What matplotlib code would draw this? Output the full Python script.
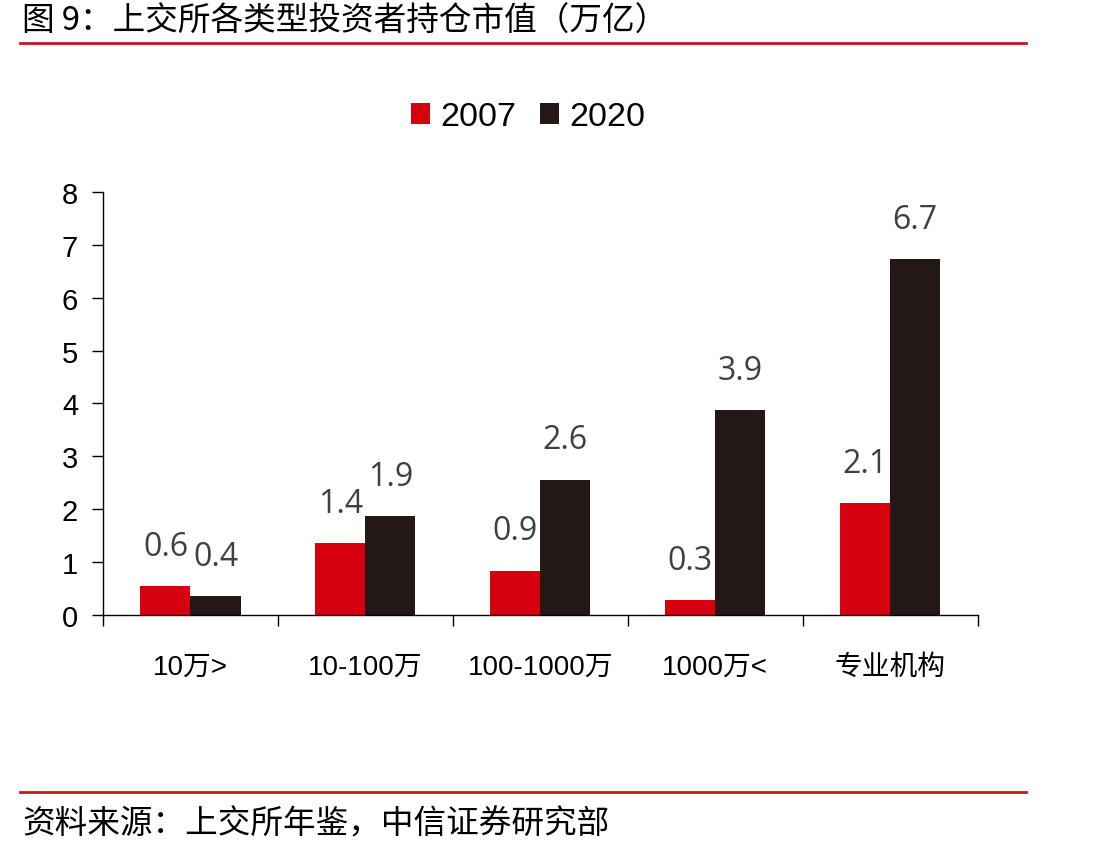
import matplotlib
matplotlib.use('Agg')
import matplotlib.pyplot as plt
import numpy as np

plt.rcParams['font.family'] = ['Liberation Sans', 'Noto Sans CJK SC', 'DejaVu Sans']

# data
categories = ['10万>', '10-100万', '100-1000万', '1000万<', '专业机构']
years = ['2007', '2020']
vals_2007 = [0.55, 1.36, 0.84, 0.28, 2.12]
vals_2020 = [0.35, 1.87, 2.56, 3.88, 6.73]
labels_2007 = ['0.6', '1.4', '0.9', '0.3', '2.1']
labels_2020 = ['0.4', '1.9', '2.6', '3.9', '6.7']

red = '#D7000F'
dark = '#231815'
line_red = '#C8161D'

fig = plt.figure(figsize=(10.96, 8.54), dpi=100)
ax = fig.add_axes([0.094, 0.2787, 0.798, 0.4953])

x = np.arange(len(categories))
w = 0.286
ax.bar(x - w / 2, vals_2007, width=w, color=red, label=years[0])
ax.bar(x + w / 2, vals_2020, width=w, color=dark, label=years[1])

for xi, v, t in zip(x - w / 2, vals_2007, labels_2007):
    ax.text(xi, v + 0.75, t, ha='center', va='center', fontsize=23,
            color='#404040', family=['Open Sans', 'DejaVu Sans'])
for xi, v, t in zip(x + w / 2, vals_2020, labels_2020):
    ax.text(xi, v + 0.75, t, ha='center', va='center', fontsize=23,
            color='#404040', family=['Open Sans', 'DejaVu Sans'])

ax.set_xlim(-0.5, len(categories) - 0.5)
ax.set_ylim(0, 8)
ax.set_yticks(range(0, 9))
ax.tick_params(axis='y', labelsize=21, length=8, width=1, direction='out', pad=10)
ax.set_xticks(x)
ax.set_xticklabels(categories, fontsize=20)
ax.tick_params(axis='x', length=0, pad=28)
ax.set_xticks(np.arange(-0.5, len(categories)), minor=True)
ax.tick_params(axis='x', which='minor', length=8, width=1, direction='out')

for s in ['top', 'right']:
    ax.spines[s].set_visible(False)
ax.spines['left'].set_linewidth(1)
ax.spines['bottom'].set_linewidth(1)

leg = fig.legend(loc='center', bbox_to_anchor=(0.482, 0.862), ncol=2, frameon=False,
                 fontsize=24.5, handlelength=0.55, handleheight=0.55, handletextpad=0.3,
                 columnspacing=0.7)

# title and source with red rules
fig.text(0.02, 0.974, '图 9：上交所各类型投资者持仓市值（万亿）', fontsize=23.5,
         family=['Noto Sans CJK SC'], va='center', ha='left')
fig.add_artist(plt.Line2D([0.018, 0.936], [0.948, 0.948], color=line_red, lw=2))
fig.add_artist(plt.Line2D([0.018, 0.936], [0.071, 0.071], color=line_red, lw=2))
fig.text(0.02, 0.034, '资料来源：上交所年鉴，中信证券研究部', fontsize=23.5,
         family=['Noto Sans CJK SC'], va='center', ha='left')

fig.savefig('out.png', dpi=100)
